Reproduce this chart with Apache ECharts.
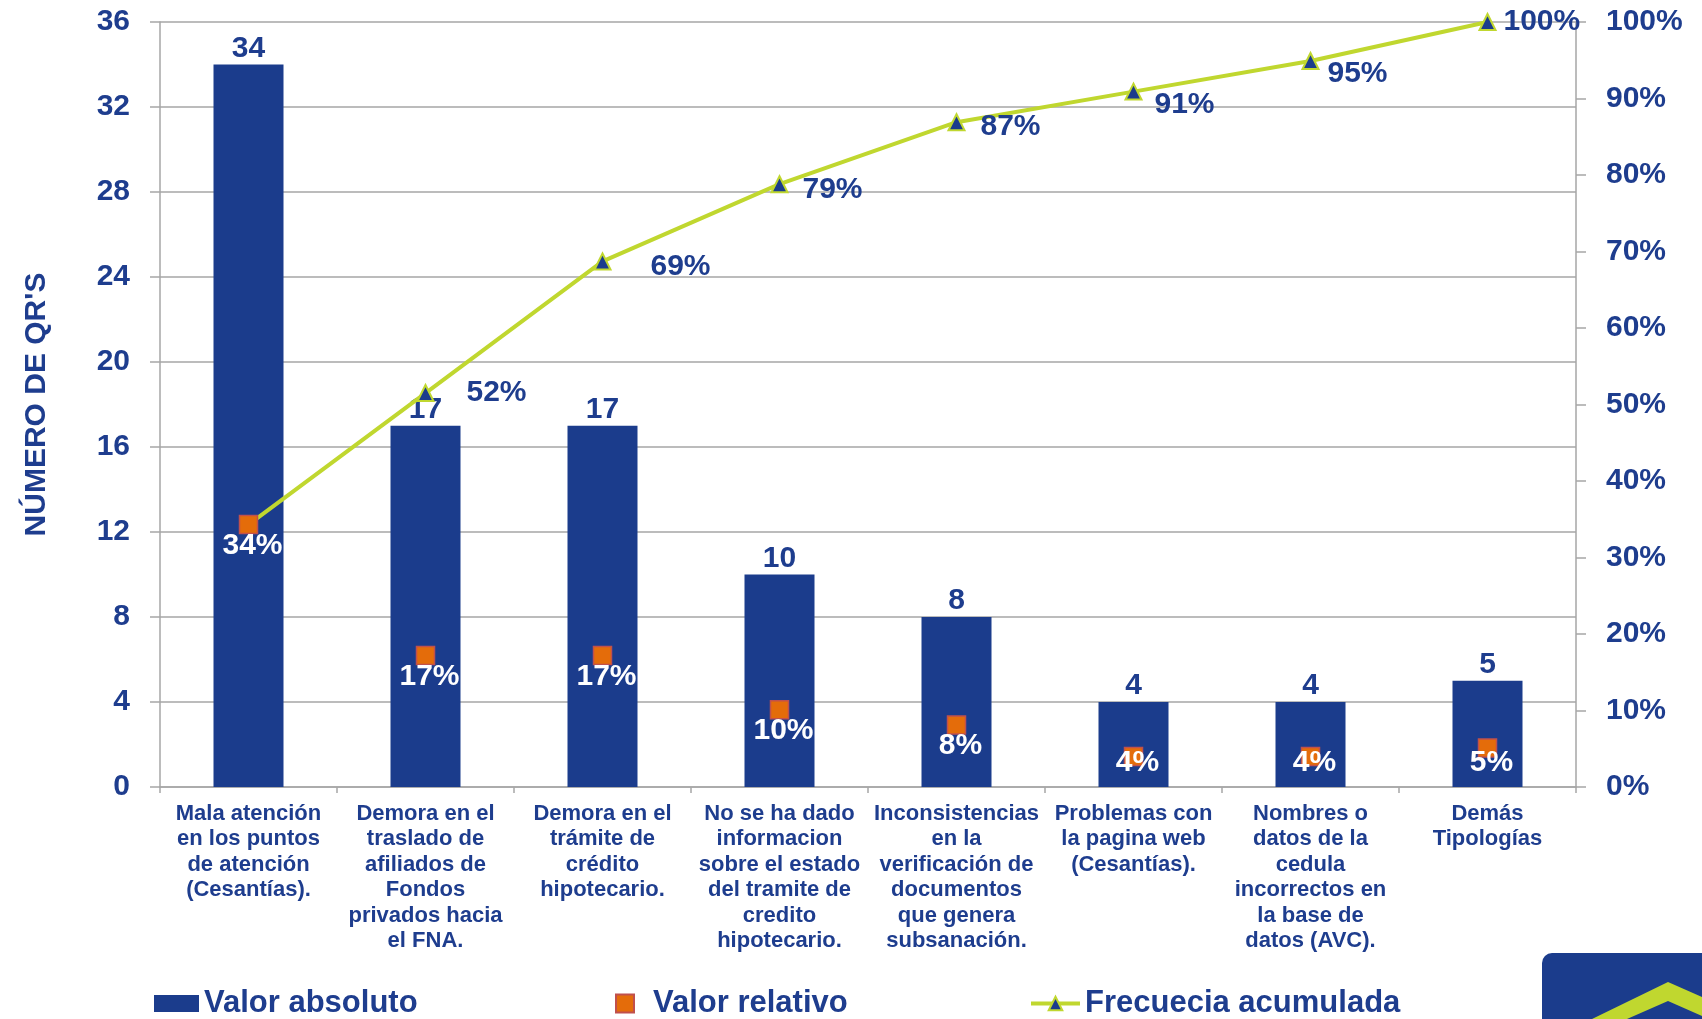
<!DOCTYPE html>
<html>
<head>
<meta charset="utf-8">
<script src="https://cdn.jsdelivr.net/npm/echarts@6/dist/echarts.min.js"></script>
<style>
html,body{margin:0;padding:0;background:#fff;}
#chart{width:1702px;height:1019px;}
</style>
</head>
<body>
<div id="chart"></div>
<script>
// ---- data ----
var categories = [
  "Mala atención\nen los puntos\nde atención\n(Cesantías).",
  "Demora en el\ntraslado de\nafiliados de\nFondos\nprivados hacia\nel FNA.",
  "Demora en el\ntrámite de\ncrédito\nhipotecario.",
  "No se ha dado\ninformacion\nsobre el estado\ndel tramite de\ncredito\nhipotecario.",
  "Inconsistencias\nen la\nverificación de\ndocumentos\nque genera\nsubsanación.",
  "Problemas con\nla pagina web\n(Cesantías).",
  "Nombres o\ndatos de la\ncedula\nincorrectos en\nla base de\ndatos (AVC).",
  "Demás\nTipologías"
];
var absoluteValues = [34, 17, 17, 10, 8, 4, 4, 5];
var relativeValues = [34.3, 17.2, 17.2, 10.1, 8.1, 4.0, 4.0, 5.1];
var cumulativeValues = [34.3, 51.5, 68.7, 78.8, 86.9, 90.9, 94.9, 100];
var leftTicks = {min: 0, max: 36, interval: 4};
var rightTicks = {min: 0, max: 100, interval: 10};

// ---- styles ----
var BLUE = '#1b3c8c';
var TXT = '#1e3d8e';
var LIME = '#c0d72f';
var ORANGE = '#e46c0a';
var GRID = '#a6a6a6';
var FONT = '"Liberation Sans", Arial, sans-serif';
var cumLabelDx = [0, 27, 34, 9, 10, 7, 3, 2];
var cumLabelDy = [0, 0, 5, 6, 5, 13, 13, 0];
var relLabelGap = 21;       // label centre below the square centre
var relLabelMaxCentre = 763; // labels kept inside the plot, above the axis

var cumData = cumulativeValues.map(function (v, i) {
  var item = {value: v, label: {offset: [cumLabelDx[i], cumLabelDy[i]]}};
  if (i === 0) { item.symbol = 'none'; item.label.show = false; }
  return item;
});

var chart = echarts.init(document.getElementById('chart'), null, {renderer: 'canvas'});
var pct = function (p) { return Math.round(p.value) + '%'; };

chart.setOption({
  backgroundColor: '#ffffff',
  animation: false,
  textStyle: {fontFamily: FONT},
  grid: {left: 160, right: 126, top: 22, bottom: 232, containLabel: false},
  legend: [
    {data: [{name: 'Valor absoluto', icon: 'rect'}], left: 154, top: 988, padding: 0,
     itemWidth: 45, itemHeight: 17,
     textStyle: {color: TXT, fontSize: 31, fontWeight: 'bold', fontFamily: FONT}},
    {data: [{name: 'Valor relativo', icon: 'rect'}], left: 615, top: 988, padding: 0,
     itemWidth: 18, itemHeight: 18,
     textStyle: {color: TXT, fontSize: 31, fontWeight: 'bold', fontFamily: FONT, padding: [0, 0, 0, 14]}},
    {data: [{name: 'Frecuecia acumulada', lineStyle: {width: 4, color: LIME}}], left: 1029, top: 988, padding: 0,
     itemWidth: 49, itemHeight: 17,
     textStyle: {color: TXT, fontSize: 31, fontWeight: 'bold', fontFamily: FONT}}
  ],
  xAxis: {
    type: 'category',
    data: categories,
    boundaryGap: true,
    axisLine: {show: true, lineStyle: {color: GRID, width: 1.5}},
    axisTick: {show: true, alignWithLabel: false, length: 6, lineStyle: {color: GRID, width: 1.5}},
    axisLabel: {interval: 0, color: TXT, fontSize: 22, fontWeight: 'bold', lineHeight: 25.5,
                margin: 14, fontFamily: FONT, align: 'center'}
  },
  yAxis: [
    {
      type: 'value', min: leftTicks.min, max: leftTicks.max, interval: leftTicks.interval,
      name: "NÚMERO DE QR'S", nameLocation: 'middle', nameGap: 108, nameRotate: 90,
      nameTextStyle: {color: TXT, fontSize: 30, fontWeight: 'bold', fontFamily: FONT},
      axisLine: {show: true, lineStyle: {color: GRID, width: 1.5}},
      axisTick: {show: true, length: 10, lineStyle: {color: GRID, width: 1.5}},
      splitLine: {show: true, lineStyle: {color: GRID, width: 1.5}},
      axisLabel: {color: TXT, fontSize: 30, fontWeight: 'bold', margin: 30, fontFamily: FONT}
    },
    {
      type: 'value', min: rightTicks.min, max: rightTicks.max, interval: rightTicks.interval,
      position: 'right',
      axisLine: {show: true, lineStyle: {color: GRID, width: 1.5}},
      axisTick: {show: true, length: 10, lineStyle: {color: GRID, width: 1.5}},
      splitLine: {show: false},
      axisLabel: {color: TXT, fontSize: 30, fontWeight: 'bold', margin: 30, fontFamily: FONT,
                  formatter: '{value}%'}
    }
  ],
  series: [
    {
      name: 'Valor absoluto', type: 'bar', yAxisIndex: 0, data: absoluteValues,
      barWidth: 70, itemStyle: {color: BLUE},
      label: {show: true, position: 'top', distance: 1, color: TXT, fontSize: 30,
              fontWeight: 'bold', fontFamily: FONT},
      z: 2
    },
    {
      name: 'Frecuecia acumulada', type: 'line', yAxisIndex: 1, data: cumData,
      symbol: 'triangle', symbolSize: 16,
      lineStyle: {color: LIME, width: 4},
      itemStyle: {color: BLUE, borderColor: LIME, borderWidth: 2},
      label: {show: true, position: 'right', distance: 5, color: TXT, fontSize: 30,
              fontWeight: 'bold', fontFamily: FONT, formatter: pct},
      z: 3
    },
    {
      name: 'Valor relativo', type: 'scatter', yAxisIndex: 1, data: relativeValues,
      symbol: 'rect', symbolSize: 18,
      itemStyle: {color: ORANGE, borderColor: '#c0504d', borderWidth: 1.5, opacity: 1},
      label: {show: true, position: 'inside', offset: [4, relLabelGap], color: '#ffffff',
              fontSize: 30, fontWeight: 'bold', fontFamily: FONT, formatter: pct},
      z: 4
    }
  ],
  graphic: [
    {type: 'rect', left: 1542, top: 953, shape: {width: 180, height: 90, r: 10},
     style: {fill: BLUE}, z: 10},
    {type: 'polygon', shape: {points: [[1592, 1019], [1668, 982], [1702, 997], [1702, 1016], [1668, 1001], [1627, 1019]]},
     style: {fill: LIME}, z: 11}
  ]
});

// keep the relative-value labels above the category axis (like the original)
var relData = relativeValues.map(function (v) {
  var py = chart.convertToPixel({yAxisIndex: 1}, v);
  var dy = Math.min(relLabelGap, relLabelMaxCentre - py);
  return {value: v, label: {offset: [4, dy]}};
});
chart.setOption({series: [{}, {}, {data: relData}]});
</script>
</body>
</html>
